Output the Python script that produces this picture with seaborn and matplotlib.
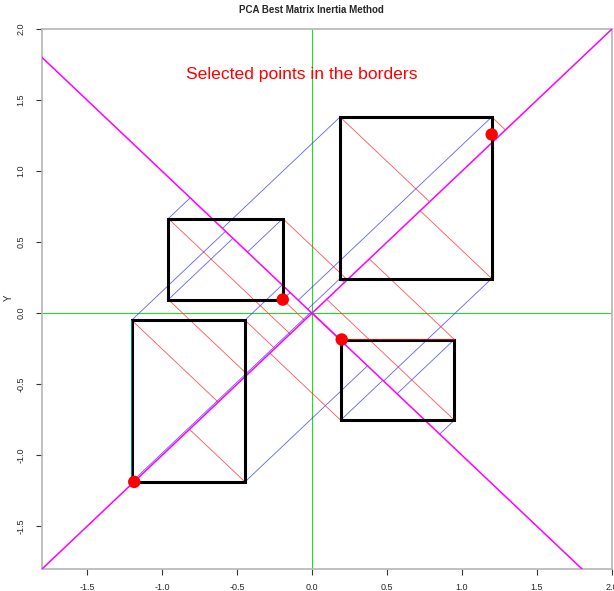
import numpy as np
import pandas as pd
import matplotlib
matplotlib.use("Agg")
import matplotlib.pyplot as plt
import seaborn as sns

# Interval data: one rectangle per object
box_xmin = [-0.958, 0.187, -1.202, 0.191]
box_xmax = [-0.195, 1.198, -0.447, 0.949]
box_ymin = [0.096, 0.244, -1.187, -0.753]
box_ymax = [0.666, 1.381, -0.049, -0.185]

# Points selected on the rectangle borders
sel_x = [-1.185, -0.195, 0.198, 1.198]
sel_y = [-1.187, 0.096, -0.185, 1.258]

# Directions of the two principal axes (through the origin)
axis1_dir = [1.0, 1.0]
axis2_dir = [1.0, -1.0]

x_ticks = [-1.5, -1.0, -0.5, 0.0, 0.5, 1.0, 1.5, 2.0]
y_ticks = [-1.5, -1.0, -0.5, 0.0, 0.5, 1.0, 1.5, 2.0]
x_range = (-1.8, 2.0)
y_range = (-1.8, 2.0)

title = "PCA Best Matrix Inertia Method"
note = "Selected points in the borders"

sns.set_theme(style="white")
plt.rcParams["font.family"] = ["Liberation Sans", "DejaVu Sans"]

fig = plt.figure(figsize=(6.14, 5.91), dpi=100)
ax = fig.add_axes([42 / 614, 22 / 591, 570 / 614, 540 / 591])
ax.set_xlim(*x_range)
ax.set_ylim(*y_range)

# reference lines through the origin
ax.axhline(0, color="#22dd22", lw=0.8, zorder=1)
ax.axvline(0, color="#22dd22", lw=0.8, zorder=1)

u1 = np.array(axis1_dir) / np.linalg.norm(axis1_dir)
u2 = np.array(axis2_dir) / np.linalg.norm(axis2_dir)

# projections of every rectangle corner onto both principal axes
for x0, x1, y0, y1 in zip(box_xmin, box_xmax, box_ymin, box_ymax):
    corners = np.array([[x0, y0], [x0, y1], [x1, y0], [x1, y1]])
    for p in corners:
        q1 = np.dot(p, u1) * u1
        q2 = np.dot(p, u2) * u2
        ax.plot([p[0], q1[0]], [p[1], q1[1]], color="#ff2a2a", lw=0.6, alpha=0.8, zorder=2)
        ax.plot([p[0], q2[0]], [p[1], q2[1]], color="#2a2aff", lw=0.6, alpha=0.75, zorder=2)

# principal axes
t = np.array([-5.0, 5.0])
ax.plot(t * u1[0], t * u1[1], color="magenta", lw=1.1, zorder=3)
ax.plot(t * u2[0], t * u2[1], color="magenta", lw=1.1, zorder=3)

# rectangles
for x0, x1, y0, y1 in zip(box_xmin, box_xmax, box_ymin, box_ymax):
    ax.plot([x0, x1, x1, x0, x0], [y0, y0, y1, y1, y0], color="black", lw=2.2,
            solid_joinstyle="miter", zorder=4)

# highlighted borders
ax.plot([box_xmin[3], box_xmax[3]], [box_ymax[3] + 0.004, box_ymax[3] + 0.004],
        color="red", lw=0.6, zorder=5)
ax.plot([box_xmin[2] - 0.003, box_xmin[2] - 0.003], [box_ymin[2], box_ymax[2]],
        color="#00a0a0", lw=0.6, zorder=5)

pts = pd.DataFrame({"x": sel_x, "y": sel_y})
sns.scatterplot(data=pts, x="x", y="y", color="red", s=80, edgecolor="none",
                zorder=6, ax=ax, legend=False)

ax.text(-0.07, 1.682, note, color="red", fontsize=12.6, ha="center", va="center")

ax.set_xticks(x_ticks)
ax.set_yticks(y_ticks)
ax.set_xticklabels([f"{v:.1f}" for v in x_ticks], fontsize=6.5)
ax.set_yticklabels([f"{v:.1f}" for v in y_ticks], fontsize=6.5, rotation=90, va="center")
ax.tick_params(axis="both", direction="out", length=4, width=0.8, color="#333333",
               pad=6, bottom=True, left=True)
ax.tick_params(axis="y", pad=8)
ax.set_xlabel("")
ax.set_ylabel("")
for s in ax.spines.values():
    s.set_color("#b5b5b5")
    s.set_linewidth(1.2)

fig.text(311 / 614, 1 - 10 / 591, title, ha="center", va="center",
         fontsize=7, fontweight="bold")
fig.text(9 / 614, 1 - 298 / 591, "Y", ha="center", va="center", rotation=90, fontsize=7)

fig.savefig("out.png", dpi=100)
